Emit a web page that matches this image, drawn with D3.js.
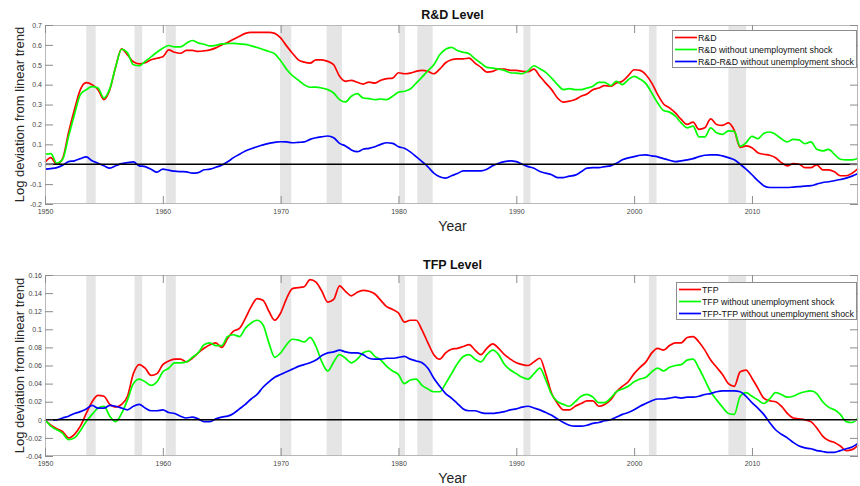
<!DOCTYPE html>
<html>
<head>
<meta charset="utf-8">
<script src="https://cdn.jsdelivr.net/npm/d3@7/dist/d3.min.js"></script>
<style>
  body { margin: 0; background: #fff; }
  svg text { font-family: "Liberation Sans", Arial, Helvetica, sans-serif; }
</style>
</head>
<body>
<div id="chart"></div>
<script>
// Quarterly-ish series, read every half year from 1950 to 2019
const years = d3.range(1950, 2019.001, 0.5);

// R&D level panel
const rdLevel = [
  0.01, 0.033, 0.0, 0.03, 0.16, 0.275, 0.375, 0.41, 0.40, 0.375, 0.325, 0.375, 0.49, 0.58, 0.55, 0.515, 0.505, 0.51, 0.525, 0.533,
  0.54, 0.575, 0.563, 0.558, 0.572, 0.572, 0.567, 0.57, 0.575, 0.585, 0.60, 0.612, 0.628, 0.643, 0.658, 0.663, 0.663, 0.663, 0.663, 0.658,
  0.635, 0.595, 0.558, 0.525, 0.513, 0.508, 0.525, 0.525, 0.517, 0.50, 0.442, 0.417, 0.422, 0.412, 0.403, 0.413, 0.408, 0.422, 0.43, 0.433,
  0.46, 0.455, 0.458, 0.467, 0.472, 0.467, 0.455, 0.478, 0.51, 0.525, 0.53, 0.53, 0.533, 0.508, 0.487, 0.463, 0.467, 0.478, 0.478, 0.472,
  0.472, 0.467, 0.465, 0.478, 0.442, 0.408, 0.375, 0.333, 0.312, 0.317, 0.325, 0.342, 0.353, 0.375, 0.383, 0.395, 0.392, 0.408, 0.417, 0.445,
  0.475, 0.472, 0.45, 0.408, 0.35, 0.303, 0.283, 0.258, 0.225, 0.20, 0.212, 0.175, 0.183, 0.228, 0.20, 0.195, 0.208, 0.17, 0.085, 0.092,
  0.083, 0.058, 0.05, 0.045, 0.033, 0.008, -0.008, 0.003, 0.0, -0.017, -0.017, -0.003, -0.028, -0.028, -0.038, -0.058, -0.058, -0.045, -0.022
];
const rdNoShock = [
  0.05, 0.053, 0.005, 0.025, 0.14, 0.25, 0.35, 0.375, 0.39, 0.383, 0.333, 0.38, 0.49, 0.578, 0.56, 0.50, 0.495, 0.517, 0.54, 0.563,
  0.583, 0.597, 0.59, 0.59, 0.608, 0.622, 0.61, 0.603, 0.595, 0.598, 0.605, 0.607, 0.608, 0.605, 0.603, 0.595, 0.587, 0.577, 0.567, 0.555,
  0.52, 0.478, 0.445, 0.423, 0.40, 0.387, 0.388, 0.383, 0.375, 0.358, 0.325, 0.313, 0.342, 0.355, 0.333, 0.33, 0.325, 0.328, 0.325, 0.342,
  0.362, 0.367, 0.378, 0.408, 0.438, 0.47, 0.50, 0.55, 0.578, 0.587, 0.572, 0.563, 0.555, 0.53, 0.508, 0.487, 0.483, 0.478, 0.472, 0.46,
  0.458, 0.455, 0.47, 0.495, 0.48, 0.462, 0.433, 0.40, 0.375, 0.38, 0.375, 0.375, 0.383, 0.392, 0.412, 0.412, 0.395, 0.417, 0.40, 0.425,
  0.442, 0.428, 0.405, 0.358, 0.308, 0.27, 0.262, 0.242, 0.208, 0.183, 0.192, 0.138, 0.138, 0.183, 0.158, 0.15, 0.168, 0.165, 0.09, 0.108,
  0.14, 0.128, 0.155, 0.162, 0.15, 0.128, 0.112, 0.125, 0.122, 0.103, 0.112, 0.075, 0.067, 0.075, 0.05, 0.025, 0.022, 0.022, 0.03
];
const rdDiff = [
  -0.025, -0.022, -0.017, -0.005, 0.013, 0.017, 0.028, 0.037, 0.017, 0.005, -0.008, -0.02, -0.008, 0.003, 0.008, 0.012, -0.008, -0.012, -0.025, -0.04,
  -0.025, -0.03, -0.035, -0.037, -0.038, -0.045, -0.042, -0.028, -0.025, -0.015, -0.005, 0.012, 0.033, 0.05, 0.067, 0.078, 0.088, 0.097, 0.105, 0.11,
  0.113, 0.112, 0.108, 0.11, 0.112, 0.125, 0.133, 0.138, 0.142, 0.133, 0.105, 0.092, 0.072, 0.063, 0.075, 0.08, 0.088, 0.10, 0.108, 0.105,
  0.088, 0.08, 0.062, 0.038, 0.013, -0.013, -0.045, -0.063, -0.07, -0.058, -0.047, -0.033, -0.033, -0.033, -0.033, -0.025, -0.008, 0.005, 0.013, 0.017,
  0.013, 0.0, -0.012, -0.02, -0.037, -0.045, -0.053, -0.067, -0.067, -0.06, -0.055, -0.038, -0.02, -0.017, -0.017, -0.012, -0.008, 0.005, 0.022, 0.032,
  0.038, 0.045, 0.047, 0.042, 0.037, 0.028, 0.02, 0.013, 0.017, 0.022, 0.028, 0.038, 0.045, 0.047, 0.047, 0.042, 0.033, 0.022, 0.0, -0.025,
  -0.053, -0.083, -0.108, -0.117, -0.117, -0.117, -0.117, -0.115, -0.113, -0.11, -0.108, -0.1, -0.092, -0.088, -0.083, -0.077, -0.07, -0.06, -0.047
];

// TFP level panel
const tfpLevel = [
  0.0, -0.006, -0.01, -0.013, -0.02, -0.016, -0.007, 0.007, 0.02, 0.027, 0.026, 0.017, 0.014, 0.017, 0.026, 0.051, 0.061, 0.057, 0.049, 0.051,
  0.061, 0.065, 0.067, 0.067, 0.064, 0.068, 0.074, 0.079, 0.083, 0.085, 0.08, 0.09, 0.098, 0.101, 0.112, 0.125, 0.134, 0.132, 0.12, 0.11,
  0.118, 0.134, 0.145, 0.146, 0.147, 0.155, 0.152, 0.142, 0.13, 0.133, 0.148, 0.142, 0.137, 0.141, 0.143, 0.142, 0.139, 0.132, 0.125, 0.122,
  0.118, 0.108, 0.11, 0.11, 0.099, 0.085, 0.072, 0.067, 0.074, 0.078, 0.079, 0.081, 0.083, 0.077, 0.072, 0.079, 0.084, 0.079, 0.072, 0.067,
  0.063, 0.061, 0.06, 0.064, 0.068, 0.051, 0.029, 0.018, 0.011, 0.011, 0.015, 0.018, 0.021, 0.021, 0.015, 0.017, 0.022, 0.031, 0.037, 0.042,
  0.051, 0.058, 0.064, 0.074, 0.079, 0.077, 0.082, 0.085, 0.085, 0.091, 0.092, 0.086, 0.077, 0.066, 0.058, 0.05, 0.04, 0.037, 0.053, 0.055,
  0.046, 0.035, 0.024, 0.021, 0.02, 0.015, 0.007, 0.002, 0.001, 0.0, -0.002, -0.009, -0.018, -0.023, -0.025, -0.029, -0.034, -0.033, -0.028
];
const tfpNoShock = [
  0.0, -0.007, -0.011, -0.015, -0.022, -0.02, -0.012, -0.002, 0.006, 0.013, 0.015, 0.004, -0.002, 0.007, 0.022, 0.04, 0.045, 0.042, 0.038, 0.042,
  0.053, 0.057, 0.063, 0.063, 0.064, 0.069, 0.074, 0.083, 0.085, 0.082, 0.082, 0.092, 0.094, 0.092, 0.101, 0.107, 0.11, 0.105, 0.085, 0.069,
  0.074, 0.083, 0.089, 0.088, 0.086, 0.091, 0.081, 0.064, 0.054, 0.064, 0.072, 0.068, 0.063, 0.067, 0.074, 0.076, 0.07, 0.066, 0.059, 0.054,
  0.05, 0.04, 0.044, 0.045, 0.038, 0.034, 0.031, 0.031, 0.04, 0.051, 0.062, 0.07, 0.072, 0.067, 0.064, 0.072, 0.077, 0.072, 0.061, 0.055,
  0.051, 0.047, 0.045, 0.051, 0.057, 0.044, 0.028, 0.02, 0.017, 0.015, 0.02, 0.026, 0.028, 0.025, 0.019, 0.019, 0.024, 0.031, 0.034, 0.037,
  0.042, 0.045, 0.047, 0.053, 0.057, 0.054, 0.058, 0.06, 0.061, 0.066, 0.067, 0.057, 0.044, 0.031, 0.022, 0.014, 0.007, 0.006, 0.026, 0.03,
  0.026, 0.022, 0.018, 0.023, 0.03, 0.028, 0.025, 0.026, 0.029, 0.031, 0.032, 0.029, 0.02, 0.014, 0.011, 0.006, -0.002, -0.003, 0.002
];
const tfpDiff = [
  0.0, 0.0, 0.0, 0.002, 0.004, 0.007, 0.009, 0.012, 0.016, 0.013, 0.013, 0.016, 0.015, 0.013, 0.011, 0.015, 0.017, 0.013, 0.01, 0.01,
  0.011, 0.008, 0.007, 0.004, 0.002, 0.003, 0.001, -0.002, -0.002, 0.001, 0.003, 0.004, 0.007, 0.012, 0.017, 0.023, 0.028, 0.036, 0.042, 0.047,
  0.05, 0.053, 0.056, 0.059, 0.061, 0.063, 0.066, 0.071, 0.074, 0.075, 0.077, 0.075, 0.074, 0.074, 0.072, 0.068, 0.067, 0.067, 0.068, 0.068,
  0.069, 0.07, 0.067, 0.065, 0.063, 0.057, 0.046, 0.037, 0.029, 0.024, 0.018, 0.012, 0.01, 0.01, 0.008, 0.007, 0.007, 0.008, 0.009, 0.011,
  0.012, 0.014, 0.015, 0.013, 0.011, 0.008, 0.005, 0.001, -0.003, -0.006, -0.007, -0.007, -0.006, -0.004, -0.003, -0.001, 0.0, 0.003, 0.006, 0.008,
  0.011, 0.015, 0.018, 0.021, 0.023, 0.023, 0.024, 0.025, 0.024, 0.025, 0.025, 0.026, 0.028, 0.029, 0.031, 0.032, 0.032, 0.032, 0.031, 0.026,
  0.019, 0.013, 0.006, -0.003, -0.011, -0.016, -0.02, -0.025, -0.029, -0.031, -0.032, -0.034, -0.035, -0.036, -0.036, -0.034, -0.032, -0.03, -0.026
];

// recession bands (start, end)
const recStart = [1953.5, 1957.6, 1960.25, 1969.95, 1973.9, 1980.05, 1981.6, 1990.6, 2001.25, 2008.0];
const recEnd   = [1954.3, 1958.25, 1961.1, 1970.9, 1975.2, 1980.55, 1982.9, 1991.2, 2001.9, 2009.5];

// ticks
const xTicks = [1950, 1960, 1970, 1980, 1990, 2000, 2010];
const rdTicks = [-0.2, -0.1, 0, 0.1, 0.2, 0.3, 0.4, 0.5, 0.6, 0.7];
const rdTickLabels = ["-0.2", "-0.1", "0", "0.1", "0.2", "0.3", "0.4", "0.5", "0.6", "0.7"];
const tfpTicks = [-0.04, -0.02, 0, 0.02, 0.04, 0.06, 0.08, 0.1, 0.12, 0.14, 0.16];
const tfpTickLabels = ["-0.04", "-0.02", "0", "0.02", "0.04", "0.06", "0.08", "0.1", "0.12", "0.14", "0.16"];

const colors = ["#ff0000", "#00ff00", "#0000ff"];

const W = 860, H = 486;
const left = 45, right = 858;

const svg = d3.select("#chart").append("svg")
  .attr("width", W)
  .attr("height", H);

const x = d3.scaleLinear().domain([1950, 2019]).range([left, right]);

function drawPanel(p) {
  const y = d3.scaleLinear().domain(p.yDomain).range([p.bottom, p.top]);
  const g = svg.append("g");

  // NBER recession shading
  g.selectAll("rect.rec")
    .data(d3.zip(recStart, recEnd))
    .join("rect")
    .attr("class", "rec")
    .attr("x", d => x(d[0]))
    .attr("width", d => x(d[1]) - x(d[0]))
    .attr("y", p.top)
    .attr("height", p.bottom - p.top)
    .attr("fill", "#e5e5e5");

  const line = d3.line()
    .x(d => x(d[0]))
    .y(d => y(d[1]))
    .curve(d3.curveMonotoneX);

  p.series.forEach((s, i) => {
    g.append("path")
      .datum(d3.zip(years, s))
      .attr("fill", "none")
      .attr("stroke", colors[i])
      .attr("stroke-width", 1.7)
      .attr("stroke-linejoin", "round")
      .attr("d", line);
  });

  // zero line
  g.append("line")
    .attr("x1", left).attr("x2", right)
    .attr("y1", y(0)).attr("y2", y(0))
    .attr("stroke", "#000")
    .attr("stroke-width", 1.5);

  // box
  g.append("rect")
    .attr("x", left + 0.5).attr("y", p.top + 0.5)
    .attr("width", right - left - 1).attr("height", p.bottom - p.top - 1)
    .attr("fill", "none")
    .attr("stroke", "#b8b8b8");

  const styleAxis = sel => {
    sel.select(".domain").remove();
    sel.selectAll(".tick line").attr("stroke", "#8c8c8c");
    sel.selectAll(".tick text")
      .attr("fill", "#454545")
      .style("font-size", "7px");
  };

  g.append("g")
    .attr("transform", `translate(0,${p.bottom})`)
    .call(d3.axisBottom(x).tickValues(xTicks).tickSize(-8).tickPadding(5).tickFormat(d3.format("d")))
    .call(styleAxis);
  g.append("g")
    .attr("transform", `translate(0,${p.top})`)
    .call(d3.axisTop(x).tickValues(xTicks).tickSize(-8).tickFormat(""))
    .call(styleAxis);
  g.append("g")
    .attr("transform", `translate(${left},0)`)
    .call(d3.axisLeft(y).tickValues(p.ticks).tickSize(-8).tickPadding(3)
      .tickFormat((d, i) => p.tickLabels[i]))
    .call(styleAxis);
  g.append("g")
    .attr("transform", `translate(${right},0)`)
    .call(d3.axisRight(y).tickValues(p.ticks).tickSize(-8).tickFormat(""))
    .call(styleAxis);

  // titles
  g.append("text")
    .attr("x", (left + right) / 2 + 1)
    .attr("y", p.top - 6)
    .attr("text-anchor", "middle")
    .style("font-size", "12.5px")
    .style("font-weight", "bold")
    .attr("fill", "#111")
    .text(p.title);

  g.append("text")
    .attr("x", (left + right) / 2 + 1)
    .attr("y", p.bottom + 26.5)
    .attr("text-anchor", "middle")
    .style("font-size", "14px")
    .attr("fill", "#262626")
    .text("Year");

  g.append("text")
    .attr("transform", `translate(24,${(p.top + p.bottom) / 2}) rotate(-90)`)
    .attr("text-anchor", "middle")
    .style("font-size", "13px")
    .attr("fill", "#262626")
    .text("Log deviation from linear trend");

  // legend
  const lg = g.append("g").attr("transform", `translate(${p.legend[0]},${p.legend[1]})`);
  lg.append("rect")
    .attr("x", 0.5).attr("y", 0.5)
    .attr("width", right - 2 - p.legend[0]).attr("height", 37)
    .attr("fill", "#fff")
    .attr("stroke", "#8c8c8c");
  p.names.forEach((name, i) => {
    const ry = 7.5 + i * 12;
    lg.append("line")
      .attr("x1", 3).attr("x2", 25)
      .attr("y1", ry).attr("y2", ry)
      .attr("stroke", colors[i])
      .attr("stroke-width", 1.7);
    lg.append("text")
      .attr("x", 26)
      .attr("y", ry + 3)
      .style("font-size", "8.8px")
      .attr("fill", "#111")
      .text(name);
  });
}

drawPanel({
  title: "R&D Level",
  top: 25, bottom: 204,
  yDomain: [-0.2, 0.7],
  ticks: rdTicks, tickLabels: rdTickLabels,
  series: [rdLevel, rdNoShock, rdDiff],
  names: ["R&D", "R&D without unemployment shock", "R&D-R&D without unemployment shock"],
  legend: [672, 30]
});

drawPanel({
  title: "TFP Level",
  top: 275, bottom: 456,
  yDomain: [-0.04, 0.16],
  ticks: tfpTicks, tickLabels: tfpTickLabels,
  series: [tfpLevel, tfpNoShock, tfpDiff],
  names: ["TFP", "TFP without unemployment shock", "TFP-TFP without unemployment shock"],
  legend: [676, 282]
});
</script>
</body>
</html>
